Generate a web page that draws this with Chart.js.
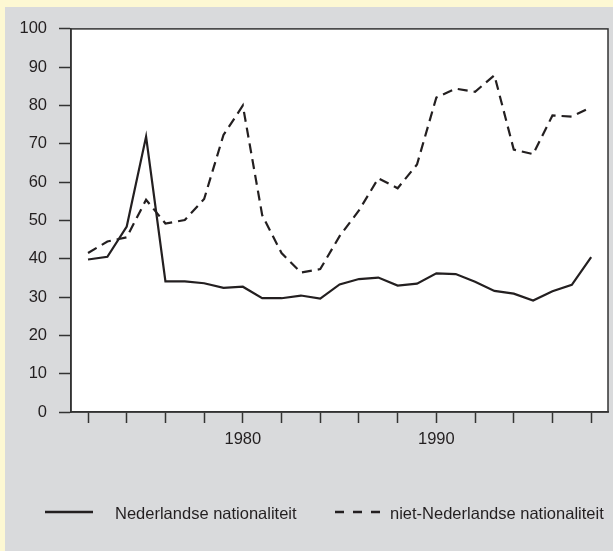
<!DOCTYPE html>
<html>
<head>
<meta charset="utf-8">
<script src="https://cdn.jsdelivr.net/npm/chart.js@4/dist/chart.umd.min.js"></script>
<style>
    body { margin: 0; background: #fdf8d3; width: 613px; height: 551px; overflow: hidden; font-family: "Liberation Sans", Arial, sans-serif; }
    #panel { position: absolute; left: 5px; top: 7px; width: 608px; height: 544px; background: #d9dadc; }
    #chart { position: absolute; left: 0; top: 0; }
    .leg { position: absolute; font-size: 16.5px; color: #231f20; line-height: 18px; white-space: nowrap; }
    svg.legline { position: absolute; }
</style>
</head>
<body>
<div id="panel">
    <canvas id="chart" width="608" height="544"></canvas>
</div>
<svg class="legline" style="left:45px;top:507px" width="50" height="10"><line x1="0" y1="5" x2="48" y2="5" stroke="#231f20" stroke-width="2.5"/></svg>
<div class="leg" style="left:115px;top:504px">Nederlandse nationaliteit</div>
<svg class="legline" style="left:335px;top:507px" width="50" height="10"><line x1="0" y1="5" x2="46" y2="5" stroke="#231f20" stroke-width="2.5" stroke-dasharray="9 9"/></svg>
<div class="leg" style="left:390px;top:504px">niet-Nederlandse nationaliteit</div>
<script>
// jaren en waarden
const jaren = [1972, 1973, 1974, 1975, 1976, 1977, 1978, 1979, 1980, 1981, 1982, 1983, 1984, 1985,
    1986, 1987, 1988, 1989, 1990, 1991, 1992, 1993, 1994, 1995, 1996, 1997, 1998];
const nederlands = [39.8, 40.5, 48.4, 71.9, 34.1, 34.1, 33.6, 32.4, 32.7, 29.7, 29.7, 30.4, 29.6, 33.3,
    34.7, 35.1, 33.0, 33.5, 36.2, 36.0, 34.0, 31.6, 30.9, 29.1, 31.5, 33.2, 40.4];
const nietNederlands = [41.5, 44.5, 45.6, 55.4, 49.2, 50.1, 55.6, 72.3, 80.0, 51.4, 41.5, 36.4, 37.3, 45.9,
    52.6, 61.0, 58.4, 64.6, 82.1, 84.4, 83.6, 87.9, 68.5, 67.3, 77.4, 77.1, 79.6];
const tickJaren = [1972, 1974, 1976, 1978, 1980, 1982, 1984, 1986, 1988, 1990, 1992, 1994, 1996, 1998];
const labelJaren = [1980, 1990];
const yTicks = [0, 10, 20, 30, 40, 50, 60, 70, 80, 90, 100];

const lijnKleur = '#231f20';
const asKleur = '#333333';

const kaderPlugin = {
    id: 'kader',
    beforeDraw(chart) {
        const { ctx, chartArea: a } = chart;
        ctx.save();
        ctx.fillStyle = '#ffffff';
        ctx.fillRect(a.left, a.top, a.right - a.left, a.bottom - a.top);
        ctx.restore();
    },
    afterDraw(chart) {
        const { ctx, chartArea: a } = chart;
        ctx.save();
        ctx.strokeStyle = asKleur;
        ctx.lineWidth = 1.5;
        ctx.strokeRect(a.left, a.top, a.right - a.left, a.bottom - a.top);
        ctx.restore();
    }
};

const ctx = document.getElementById('chart').getContext('2d');
new Chart(ctx, {
    type: 'line',
    data: {
        datasets: [{
            label: 'Nederlandse nationaliteit',
            data: jaren.map((j, i) => ({ x: j, y: nederlands[i] })),
            borderColor: lijnKleur,
            borderWidth: 2.2,
            pointRadius: 0,
            tension: 0
        }, {
            label: 'niet-Nederlandse nationaliteit',
            data: jaren.map((j, i) => ({ x: j, y: nietNederlands[i] })),
            borderColor: lijnKleur,
            borderWidth: 2.2,
            borderDash: [10, 6],
            pointRadius: 0,
            tension: 0
        }]
    },
    options: {
        responsive: false,
        animation: false,
        layout: { padding: { top: 15, right: 5, left: 0, bottom: 0 } },
        plugins: {
            legend: { display: false },
            tooltip: { enabled: false }
        },
        scales: {
            x: {
                type: 'linear',
                min: 1971.12,
                max: 1998.87,
                afterBuildTicks: scale => { scale.ticks = tickJaren.map(v => ({ value: v })); },
                afterFit: scale => { scale.height = 139; },
                grid: { drawOnChartArea: false, tickLength: 11, tickWidth: 1.5, tickColor: asKleur },
                border: { color: asKleur, width: 1.5 },
                ticks: {
                    autoSkip: false,
                    maxRotation: 0,
                    padding: 7,
                    color: '#231f20',
                    font: { family: 'Liberation Sans', size: 16.5 },
                    callback: v => labelJaren.includes(v) ? String(v) : ''
                }
            },
            y: {
                min: 0,
                max: 100,
                afterBuildTicks: scale => { scale.ticks = yTicks.map(v => ({ value: v })); },
                afterFit: scale => { scale.width = 66; },
                grid: { drawOnChartArea: false, tickLength: 12, tickWidth: 1.5, tickColor: asKleur },
                border: { color: asKleur, width: 1.5 },
                ticks: {
                    padding: 12,
                    color: '#231f20',
                    font: { family: 'Liberation Sans', size: 16.5 }
                }
            }
        }
    },
    plugins: [kaderPlugin]
});
</script>
</body>
</html>
